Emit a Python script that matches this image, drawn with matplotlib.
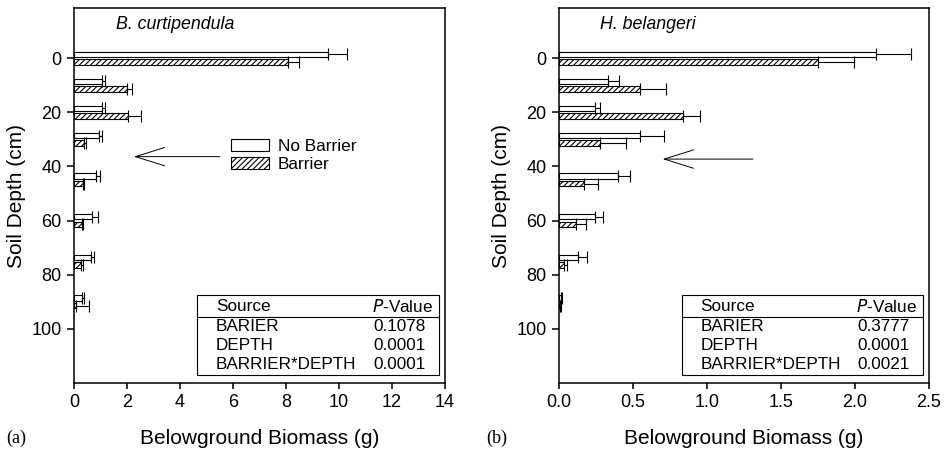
import matplotlib
matplotlib.use("Agg")
import matplotlib.pyplot as plt
import numpy as np

# ---- data ----
depths = [0, 10, 20, 30, 45, 60, 75, 90]

a_nobar = [9.57, 1.07, 1.07, 0.94, 0.82, 0.69, 0.63, 0.29]
a_nobar_err = [0.72, 0.10, 0.10, 0.13, 0.16, 0.20, 0.12, 0.10]
a_bar = [8.06, 2.01, 2.05, 0.38, 0.33, 0.29, 0.25, 0.08]
a_bar_err = [0.42, 0.19, 0.48, 0.07, 0.05, 0.06, 0.08, 0.47]

b_nobar = [2.14, 0.33, 0.24, 0.545, 0.40, 0.243, 0.13, 0.012]
b_nobar_err = [0.24, 0.075, 0.04, 0.165, 0.08, 0.057, 0.06, 0.008]
b_bar = [1.75, 0.55, 0.835, 0.28, 0.167, 0.115, 0.034, 0.008]
b_bar_err = [0.245, 0.17, 0.115, 0.17, 0.098, 0.065, 0.022, 0.006]

table_sources = ["BARIER", "DEPTH", "BARRIER*DEPTH"]
a_pvalues = ["0.1078", "0.0001", "0.0001"]
b_pvalues = ["0.3777", "0.0001", "0.0021"]

titles = ["B. curtipendula", "H. belangeri"]
panel_labels = ["(a)", "(b)"]
series_labels = ["No Barrier", "Barrier"]

plt.rcParams['font.family'] = ['Liberation Sans', 'DejaVu Sans']
plt.rcParams['hatch.linewidth'] = 0.8

fig = plt.figure(figsize=(9.52, 4.5), dpi=100)
ax1 = fig.add_axes([0.0777, 0.1489, 0.3897, 0.8333])
ax2 = fig.add_axes([0.5872, 0.1489, 0.3887, 0.8333])

bh = 2.0
off = 1.4
tfs = 12.3


def draw(ax, nb, nbe, b, be, xmax, xticks, fmt, title, pvals, arrow_x, arrow_y, legend):
    y = np.array(depths, dtype=float)
    ax.barh(y - off, nb, height=bh, color='white', edgecolor='black', linewidth=0.8,
            xerr=[np.zeros(len(nbe)), nbe], error_kw=dict(ecolor='black', elinewidth=0.8,
            capsize=4, capthick=0.8), label=series_labels[0], zorder=2)
    ax.barh(y + off, b, height=bh, color='white', edgecolor='black', linewidth=0.8,
            hatch='//////', xerr=[np.zeros(len(be)), be], error_kw=dict(ecolor='black',
            elinewidth=0.8, capsize=4, capthick=0.8), label=series_labels[1], zorder=2)
    ax.set_xlim(0, xmax)
    ax.set_ylim(120, -18.5)
    ax.set_yticks([0, 20, 40, 60, 80, 100])
    ax.set_xticks(xticks)
    ax.set_xticklabels([fmt.format(t) for t in xticks])
    ax.tick_params(axis='both', direction='out', labelsize=13, width=1.1)
    ax.tick_params(axis='x', length=4, pad=4)
    ax.tick_params(axis='y', length=5, pad=4)
    for s in ax.spines.values():
        s.set_linewidth(1.1)
    ax.set_xlabel("Belowground Biomass (g)", fontsize=15, labelpad=13)
    ax.set_ylabel("Soil Depth (cm)", fontsize=15, labelpad=4)
    ax.text(0.112, 0.955, title, transform=ax.transAxes, fontsize=12.8, style='italic',
            ha='left', va='center')
    # table
    ax.add_patch(plt.Rectangle((0.332, 0.022), 0.652, 0.212, transform=ax.transAxes,
                               facecolor='white', edgecolor='black', linewidth=0.8, zorder=3))
    ax.plot([0.332, 0.984], [0.176, 0.176], transform=ax.transAxes, color='black',
            linewidth=0.8, zorder=4)
    ax.text(0.382, 0.204, "Source", transform=ax.transAxes, fontsize=tfs, va='center',
            ha='left', zorder=5)
    ax.text(0.968, 0.204, "$\\mathit{P}$-Value", transform=ax.transAxes, fontsize=tfs,
            va='center', ha='right', zorder=5)
    rows_y = [0.151, 0.100, 0.050]
    for src, pv, yy in zip(table_sources, pvals, rows_y):
        ax.text(0.382, yy, src, transform=ax.transAxes, fontsize=tfs, va='center',
                ha='left', zorder=5)
        ax.text(0.806, yy, pv, transform=ax.transAxes, fontsize=tfs, va='center',
                ha='left', zorder=5)
    # arrow
    ax.annotate("", xy=(arrow_x[1], arrow_y), xytext=(arrow_x[0], arrow_y),
                arrowprops=dict(arrowstyle="->, head_length=1.05, head_width=0.33",
                                color='black', linewidth=0.7, mutation_scale=20,
                                shrinkA=0, shrinkB=0))
    if legend:
        ax.legend(loc='upper left', bbox_to_anchor=(0.424, 0.65), frameon=False,
                  fontsize=12.4, borderpad=0, borderaxespad=0, handlelength=2.2,
                  handleheight=0.65, handletextpad=0.5, labelspacing=0.15)


draw(ax1, a_nobar, a_nobar_err, a_bar, a_bar_err, 14, [0, 2, 4, 6, 8, 10, 12, 14], "{:g}",
     titles[0], a_pvalues, (5.5, 2.26), 36.4, True)
draw(ax2, b_nobar, b_nobar_err, b_bar, b_bar_err, 2.5, [0.0, 0.5, 1.0, 1.5, 2.0, 2.5],
     "{:.1f}", titles[1], b_pvalues, (1.31, 0.70), 37.3, False)

fig.text(0.007, 0.027, panel_labels[0], fontsize=13, family='Liberation Serif',
         va='center', ha='left')
fig.text(0.511, 0.027, panel_labels[1], fontsize=13, family='Liberation Serif',
         va='center', ha='left')

fig.savefig("out.png", dpi=100)
